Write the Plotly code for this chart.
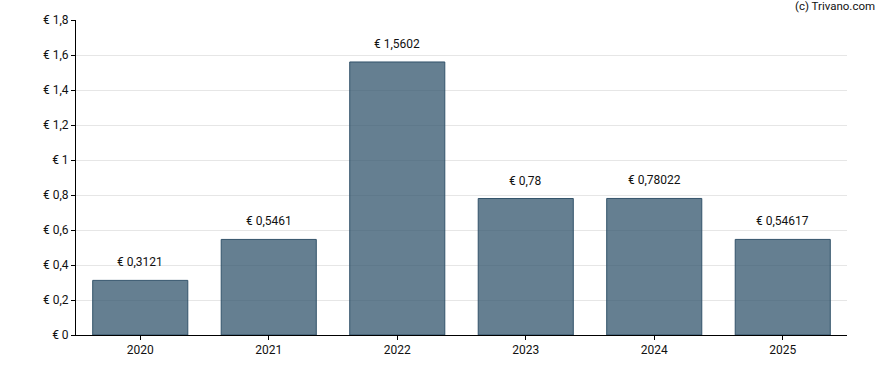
import plotly.graph_objects as go

years = ["2020", "2021", "2022", "2023", "2024", "2025"]
values = [0.3121, 0.5461, 1.5602, 0.78, 0.78022, 0.54617]
value_labels = ["€ 0,3121", "€ 0,5461", "€ 1,5602", "€ 0,78", "€ 0,78022", "€ 0,54617"]
y_ticks = [0, 0.2, 0.4, 0.6, 0.8, 1.0, 1.2, 1.4, 1.6, 1.8]
y_tick_labels = ["€ 0", "€ 0,2", "€ 0,4", "€ 0,6", "€ 0,8", "€ 1", "€ 1,2", "€ 1,4", "€ 1,6", "€ 1,8"]

font = dict(family="Roboto, Arial, sans-serif", size=12, color="#111111")

fig = go.Figure()
fig.add_trace(go.Bar(
    x=years, y=values,
    marker=dict(color="rgba(50,84,108,0.75)", line=dict(color="rgba(45,78,102,0.95)", width=1)),
    hoverinfo="skip",
))
for i, (v, t) in enumerate(zip(values, value_labels)):
    fig.add_annotation(x=i, y=v, text=t, showarrow=False, yanchor="bottom", yshift=9, font=font)

fig.add_annotation(xref="paper", yref="paper", x=1.0, y=1.0, xanchor="right", yanchor="bottom",
                   xshift=30, yshift=5, text="(c) Trivano.com", showarrow=False,
                   font=dict(family="Roboto, Arial, sans-serif", size=11.5, color="#111111"))

fig.update_layout(
    width=888, height=370,
    margin=dict(l=76, r=41, t=20, b=35),
    paper_bgcolor="white", plot_bgcolor="white",
    bargap=0.26, showlegend=False, font=font,
)
fig.update_xaxes(type="category", showline=True, linecolor="black", linewidth=1,
                 ticks="outside", ticklen=4, tickcolor="black", showgrid=False,
                 tickfont=font)
fig.update_yaxes(range=[0, 1.8], tickvals=y_ticks, ticktext=y_tick_labels,
                 showline=True, linecolor="black", linewidth=1,
                 ticks="outside", ticklen=4, tickcolor="black",
                 showgrid=True, gridcolor="#e6e6e6", gridwidth=1, zeroline=False,
                 tickfont=font)

fig.write_html("out.html", config={"displayModeBar": False},
               post_script="document.body.style.margin='0';")
